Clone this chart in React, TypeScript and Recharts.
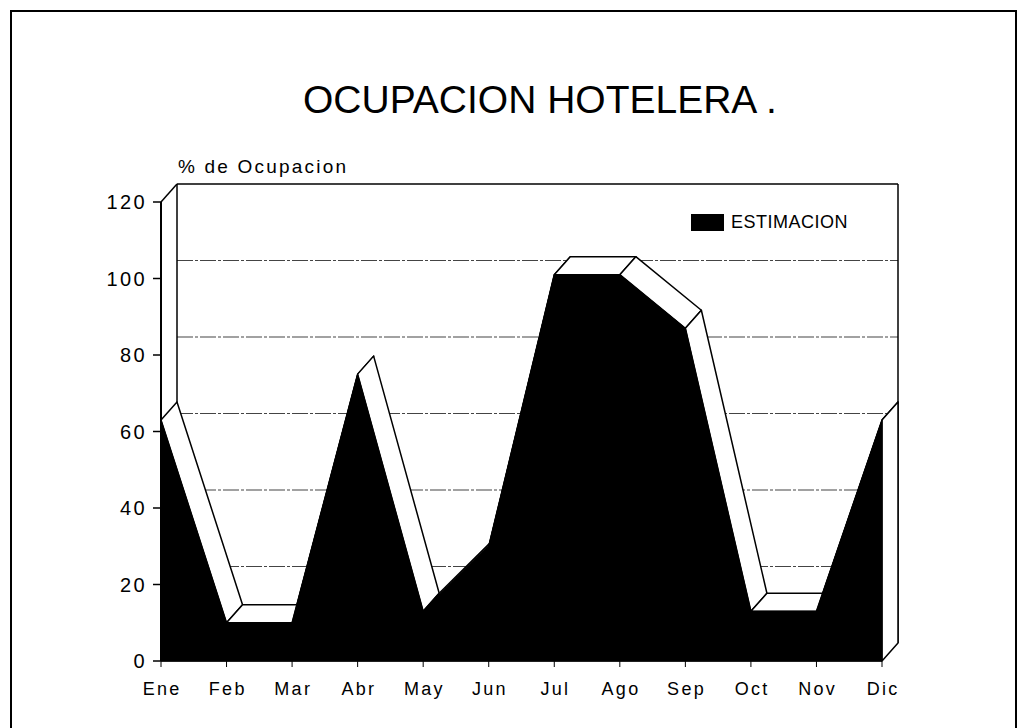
import { Area, CartesianGrid, ComposedChart, Legend, Line, XAxis, YAxis } from "recharts"

const months = ["Ene", "Feb", "Mar", "Abr", "May", "Jun", "Jul", "Ago", "Sep", "Oct", "Nov", "Dic"]
const estimacion = [63, 10, 10, 75, 13, 30, 101, 101, 87, 13, 13, 63]
const yTicks = [0, 20, 40, 60, 80, 100, 120]

const data = months.map((m, i) => ({ m, v: estimacion[i] }))

const FONT = "'Liberation Sans', Arial, Helvetica, sans-serif"
// depth of the 3D effect, in px
const DX = 16
const DY = -18

// back wall: gridlines pushed back by the depth, plus the frame drawn off the top line
function renderBackWall(p: any) {
    const { x1, y1, x2, y2, x, y, width, height, index } = p
    if (Math.abs(y1 - (y + height)) < 0.5) return <g key={`h-${index}`} />
    if (Math.abs(y1 - y) < 0.5) {
        return (
            <g key={`h-${index}`} stroke="#000" strokeWidth={1.5} fill="none">
                <line x1={x} y1={y} x2={x + DX} y2={y + DY} />
                <line x1={x + DX} y1={y + DY} x2={x + width + DX} y2={y + DY} />
                <line x1={x + DX} y1={y + DY} x2={x + DX} y2={y + height + DY} />
                <line x1={x + width + DX} y1={y + DY} x2={x + width + DX} y2={y + height + DY} />
            </g>
        )
    }
    return (
        <line
            key={`h-${index}`}
            x1={x1 + DX}
            y1={y1 + DY}
            x2={x2 + DX}
            y2={y2 + DY}
            stroke="#444"
            strokeWidth={1.2}
            strokeDasharray="16 2 3 2"
        />
    )
}

// top faces of the 3D area; the last call also repaints the front face so
// the top faces of rising segments end up hidden behind it
function renderStrip(p: any) {
    const { index, points } = p
    if (!points || index == null) return <g key={`s-${index}`} />
    const a = points[index]
    const b = points[index + 1]
    if (b) {
        const d = `M${a.x},${a.y}L${b.x},${b.y}L${b.x + DX},${b.y + DY}L${a.x + DX},${a.y + DY}Z`
        return <path key={`s-${index}`} d={d} fill="#fff" stroke="#000" strokeWidth={1.5} strokeLinejoin="round" />
    }
    // baseline pixel from two points of the y scale
    const p0 = points[0]
    const p1 = points.find((q: any) => q.value !== p0.value)
    const k = (p0.y - p1.y) / (p1.value - p0.value)
    const base = p0.y + p0.value * k
    const side = `M${a.x},${a.y}L${a.x + DX},${a.y + DY}L${a.x + DX},${base + DY}L${a.x},${base}Z`
    const front =
        `M${p0.x},${base}` + points.map((q: any) => `L${q.x},${q.y}`).join("") + `L${a.x},${base}Z`
    return (
        <g key={`s-${index}`}>
            <path d={side} fill="#fff" stroke="#000" strokeWidth={1.5} strokeLinejoin="round" />
            <path d={front} fill="#000" stroke="#000" strokeWidth={1} />
        </g>
    )
}

function renderXTick(p: any) {
    const { x, y, payload } = p
    return (
        <text x={x + 1.2} y={y} dy={26} textAnchor="middle" fill="#000" fontSize={18} fontFamily={FONT} letterSpacing={2.3}>
            {payload.value}
        </text>
    )
}

function renderYTick(p: any) {
    const { x, y, payload } = p
    return (
        <text x={x} y={y} dy={7} textAnchor="end" fill="#000" fontSize={20} fontFamily={FONT} letterSpacing={2.4}>
            {payload.value}
        </text>
    )
}

function renderLegend(p: any) {
    const items = (p.payload ?? []).filter((e: any) => e.type !== "none")
    return (
        <div style={{ fontFamily: FONT }}>
            {items.map((e: any) => (
                <div key={e.value} style={{ display: "flex", alignItems: "center", gap: 7 }}>
                    <span style={{ display: "inline-block", width: 33, height: 17, background: "#000" }} />
                    <span style={{ fontSize: 18, letterSpacing: 0.5, color: "#000", lineHeight: "17px" }}>{e.value}</span>
                </div>
            ))}
        </div>
    )
}

export default function App() {
    return (
        <div style={{ position: "absolute", left: 0, top: 0, width: 1022, height: 728, overflow: "hidden", background: "#fff" }}>
            <div
                style={{
                    position: "absolute",
                    left: 10,
                    top: 10,
                    width: 1003,
                    height: 800,
                    border: "2px solid #000",
                }}
            />
            <div style={{ position: "absolute", left: 0, top: 0 }}>
                <ComposedChart
                    width={1022}
                    height={728}
                    data={data}
                    margin={{ top: 202, left: 101, right: 140, bottom: 37 }}
                >
                    <CartesianGrid vertical={false} horizontal={renderBackWall} />
                    <XAxis
                        dataKey="m"
                        scale="point"
                        padding={{ left: 0, right: 0 }}
                        interval={0}
                        height={30}
                        tickSize={6}
                        tickMargin={2}
                        axisLine={{ stroke: "#000", strokeWidth: 1.5 }}
                        tickLine={{ stroke: "#000" }}
                        tick={renderXTick}
                    />
                    <YAxis
                        domain={[0, 120]}
                        ticks={yTicks}
                        interval={0}
                        width={60}
                        tickSize={8}
                        tickMargin={6}
                        axisLine={{ stroke: "#000", strokeWidth: 2 }}
                        tickLine={{ stroke: "#000", strokeWidth: 1.5 }}
                        tick={renderYTick}
                    />
                    <Legend
                        layout="vertical"
                        align="center"
                        verticalAlign="middle"
                        content={renderLegend}
                        wrapperStyle={{ position: "absolute", left: 691, top: 214, width: "auto", height: "auto" }}
                    />
                    <Area
                        dataKey="v"
                        name="ESTIMACION"
                        type="linear"
                        fill="#000"
                        fillOpacity={1}
                        stroke="#000"
                        strokeWidth={1}
                        dot={false}
                        activeDot={false}
                        isAnimationActive={false}
                    />
                    <Line
                        dataKey="v"
                        stroke="none"
                        legendType="none"
                        dot={renderStrip}
                        activeDot={false}
                        isAnimationActive={false}
                    />
                </ComposedChart>
            </div>
            <svg width={1022} height={728} style={{ position: "absolute", left: 0, top: 0, pointerEvents: "none" }}>
                <text x={303} y={113} fontSize={39} fontFamily={FONT} fill="#000">
                    OCUPACION HOTELERA .
                </text>
                <text x={178} y={173} fontSize={19} fontFamily={FONT} letterSpacing={2.2} fill="#000">
                    % de Ocupacion
                </text>
            </svg>
        </div>
    )
}
